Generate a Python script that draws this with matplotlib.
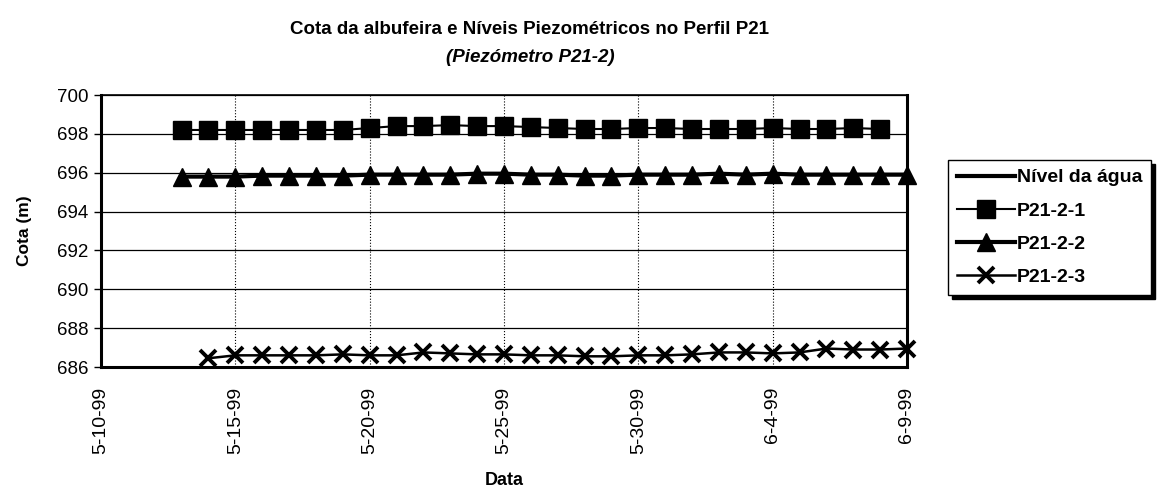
import numpy as np
import matplotlib.pyplot as plt
import pandas as pd

plt.rcParams['font.family'] = ['Liberation Sans', 'DejaVu Sans']

# leituras diarias (m)
dias_p1 = pd.date_range('1999-05-13', '1999-06-08', freq='D')
p21_2_1 = [698.2, 698.2, 698.2, 698.2, 698.2, 698.2, 698.2, 698.3, 698.4, 698.4,
           698.45, 698.4, 698.4, 698.35, 698.3, 698.25, 698.25, 698.3, 698.3,
           698.25, 698.25, 698.25, 698.3, 698.25, 698.25, 698.3, 698.25]

dias_p2 = pd.date_range('1999-05-13', '1999-06-09', freq='D')
p21_2_2 = [695.8, 695.8, 695.8, 695.85, 695.85, 695.85, 695.85, 695.9, 695.9,
           695.9, 695.9, 695.95, 695.95, 695.9, 695.9, 695.85, 695.85, 695.9,
           695.9, 695.9, 695.95, 695.9, 695.95, 695.9, 695.9, 695.9, 695.9, 695.9]

dias_p3 = pd.date_range('1999-05-14', '1999-06-09', freq='D')
p21_2_3 = [686.45, 686.6, 686.6, 686.6, 686.6, 686.65, 686.6, 686.6, 686.75,
           686.7, 686.65, 686.65, 686.6, 686.6, 686.55, 686.55, 686.6, 686.6,
           686.65, 686.75, 686.75, 686.7, 686.75, 686.95, 686.9, 686.9, 686.95]

# nivel da agua: sem leituras no periodo
dias_agua = []
nivel_agua = []

fig = plt.figure(figsize=(11.64, 4.90), dpi=100)
ax = fig.add_axes([101 / 1164, 1 - 367 / 490, 806 / 1164, 272 / 490])

ax.plot(dias_agua, nivel_agua, color='black', lw=3, label='Nível da água')
ax.plot(dias_p1, p21_2_1, color='black', lw=1.5, marker='s', ms=13,
        label='P21-2-1', zorder=3)
ax.plot(dias_p2, p21_2_2, color='black', lw=3, marker='^', ms=13,
        label='P21-2-2', zorder=3, clip_on=False)
ax.plot(dias_p3, p21_2_3, color='black', lw=1.8, marker='x', ms=11, mew=2.8,
        label='P21-2-3', zorder=3, clip_on=False)

ax.set_xlim(pd.Timestamp('1999-05-10'), pd.Timestamp('1999-06-09'))
ax.set_ylim(686, 700)
ax.set_yticks(np.arange(686, 701, 2))
ticks_x = pd.date_range('1999-05-10', '1999-06-09', freq='5D')
ax.set_xticks(ticks_x)
ax.set_xticklabels([f'{d.month}-{d.day}-99' for d in ticks_x], rotation=90,
                   fontsize=14)
ax.tick_params(axis='y', labelsize=13.5, length=5, width=1, pad=4)
ax.tick_params(axis='x', length=0, pad=14)

ax.grid(axis='y', color='black', lw=0.9)
ax.grid(axis='x', color='black', lw=0.8, ls=':')
ax.set_axisbelow(True)

for lado in ['left', 'bottom', 'right']:
    ax.spines[lado].set_linewidth(2.2)
ax.spines['top'].set_linewidth(1.2)

ax.set_xlabel('Data', fontsize=13, fontweight='bold', labelpad=13)
ax.set_ylabel('Cota (m)', fontsize=12.5, fontweight='bold', labelpad=18)

fig.text(530 / 1164, 1 - 30 / 490,
         'Cota da albufeira e Níveis Piezométricos no Perfil P21',
         ha='center', va='center', fontsize=13.5, fontweight='bold')
fig.text(530 / 1164, 1 - 57 / 490, '(Piezómetro P21-2)',
         ha='center', va='center', fontsize=13.5, fontweight='bold', style='italic')

leg = ax.legend(loc='upper left', bbox_to_anchor=((948 - 101) / 806, (367 - 160) / 272),
                frameon=True, fancybox=False,
                shadow={'color': 'black', 'alpha': 1, 'ox': 3, 'oy': -3},
                fontsize=14, handlelength=3.0, handletextpad=0.1, borderpad=0.45,
                labelspacing=0.8, borderaxespad=0)
leg.get_frame().set_edgecolor('black')
leg.get_frame().set_linewidth(1)
for t in leg.get_texts():
    t.set_fontweight('bold')

fig.savefig('out.png', dpi=100)
